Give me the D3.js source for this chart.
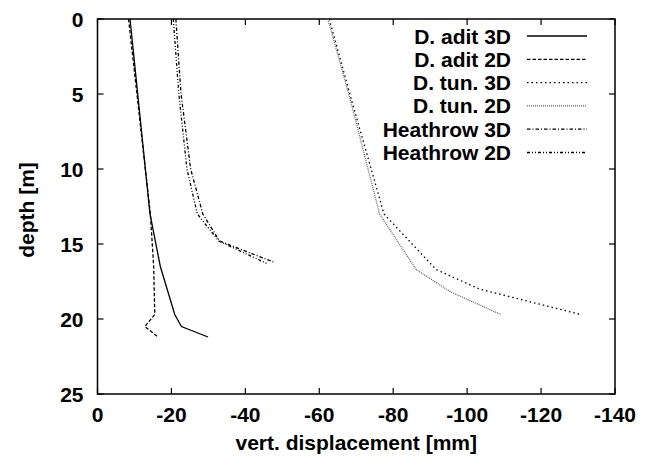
<!DOCTYPE html>
<html><head><meta charset="utf-8">
<script src="https://cdn.jsdelivr.net/npm/d3@7"></script>
<style>body{margin:0;background:#fff}svg text{font-family:"Liberation Sans",Arial,sans-serif;font-weight:bold;fill:#000}</style>
</head><body><svg id="c" width="652" height="466"></svg>
<script>
// Data: [depth (m), vertical displacement (mm)]
const aditDepths3D = [0, 13, 16.5, 19.7, 20.5, 21.2];
const adit3D = [-8.8, -14.2, -17.0, -20.9, -22.7, -29.9];
const aditDepths2D = [0, 13, 16.5, 19.7, 20.5, 21.2];
const adit2D = [-8.4, -14.3, -15.2, -15.5, -12.8, -16.4];
const tunDepths3D = [0, 5.3, 13, 16.7, 18.0, 19.7];
const tun3D = [-62.7, -68.6, -77.5, -91.6, -103.3, -130.7];
const tunDepths2D = [0, 5.3, 13, 16.7, 18.2, 19.7];
const tun2D = [-62.3, -68.3, -76.3, -86.2, -95.6, -109.1];
const heaDepths3D = [0, 5, 10, 13, 14.8, 16.2];
const hea3D = [-21.2, -22.6, -25.2, -28.5, -33.0, -47.6];
const heaDepths2D = [0, 5, 10, 13, 14.8, 16.3];
const hea2D = [-20.5, -22.0, -24.2, -27.0, -32.8, -45.8];
const seriesNames = ["D. adit 3D","D. adit 2D","D. tun. 3D","D. tun. 2D","Heathrow 3D","Heathrow 2D"];
const xTicks = [0,-20,-40,-60,-80,-100,-120,-140];
const yTicks = [0,5,10,15,20,25];

const series = [
  {name: seriesNames[0], d: aditDepths3D, v: adit3D, dash: null, color: "#000"},
  {name: seriesNames[1], d: aditDepths2D, v: adit2D, dash: "3.5,2", color: "#000"},
  {name: seriesNames[2], d: tunDepths3D, v: tun3D, dash: "1.5,3", color: "#000"},
  {name: seriesNames[3], d: tunDepths2D, v: tun2D, dash: "1,1", color: "#666"},
  {name: seriesNames[4], d: heaDepths3D, v: hea3D, dash: "3.5,2,1,2", color: "#000"},
  {name: seriesNames[5], d: heaDepths2D, v: hea2D, dash: "3,2,1,2,1,2", color: "#000"}
];

const L = 97.5, R = 615, T = 19, B = 394;
const x = d3.scaleLinear().domain([0,-140]).range([L,R]);
const y = d3.scaleLinear().domain([0,25]).range([T,B]);
const svg = d3.select("#c");
const fs = 21;

// ticks (mirrored, inward)
const g = svg.append("g").attr("stroke","#000").attr("stroke-width",1.2);
xTicks.forEach(t=>{
  g.append("line").attr("x1",x(t)).attr("x2",x(t)).attr("y1",B).attr("y2",B-6);
  g.append("line").attr("x1",x(t)).attr("x2",x(t)).attr("y1",T).attr("y2",T+6);
});
yTicks.forEach(t=>{
  g.append("line").attr("y1",y(t)).attr("y2",y(t)).attr("x1",L).attr("x2",L+6);
  g.append("line").attr("y1",y(t)).attr("y2",y(t)).attr("x1",R).attr("x2",R-6);
});
svg.append("rect").attr("x",L).attr("y",T).attr("width",R-L).attr("height",B-T)
  .attr("fill","none").attr("stroke","#000").attr("stroke-width",1.5);

svg.selectAll(".xl").data(xTicks).enter().append("text")
  .attr("x",d=>x(d)).attr("y",B+28).attr("text-anchor","middle").attr("font-size",fs).text(d=>d);
svg.selectAll(".yl").data(yTicks).enter().append("text")
  .attr("x",L-14).attr("y",d=>y(d)+7.5).attr("text-anchor","end").attr("font-size",fs).text(d=>d);

svg.append("text").attr("x",(L+R)/2).attr("y",450).attr("text-anchor","middle").attr("font-size",fs)
  .text("vert. displacement [mm]");
svg.append("text").attr("transform","translate(34,210) rotate(-90)").attr("text-anchor","middle")
  .attr("font-size",fs).text("depth [m]");

const line = d3.line().x(p=>x(p[1])).y(p=>y(p[0]));
series.forEach(s=>{
  const pts = s.d.map((dd,i)=>[dd,s.v[i]]);
  svg.append("path").attr("d",line(pts)).attr("fill","none").attr("stroke",s.color)
    .attr("stroke-width",1.3).attr("stroke-dasharray",s.dash);
});

// legend
series.forEach((s,i)=>{
  const cy = 36 + i*23.3;
  svg.append("text").attr("x",511).attr("y",cy+7.5).attr("text-anchor","end").attr("font-size",fs).text(s.name);
  svg.append("line").attr("x1",527).attr("x2",587).attr("y1",cy).attr("y2",cy)
    .attr("stroke",s.color).attr("stroke-width",1.3).attr("stroke-dasharray",s.dash);
});
</script></body></html>
